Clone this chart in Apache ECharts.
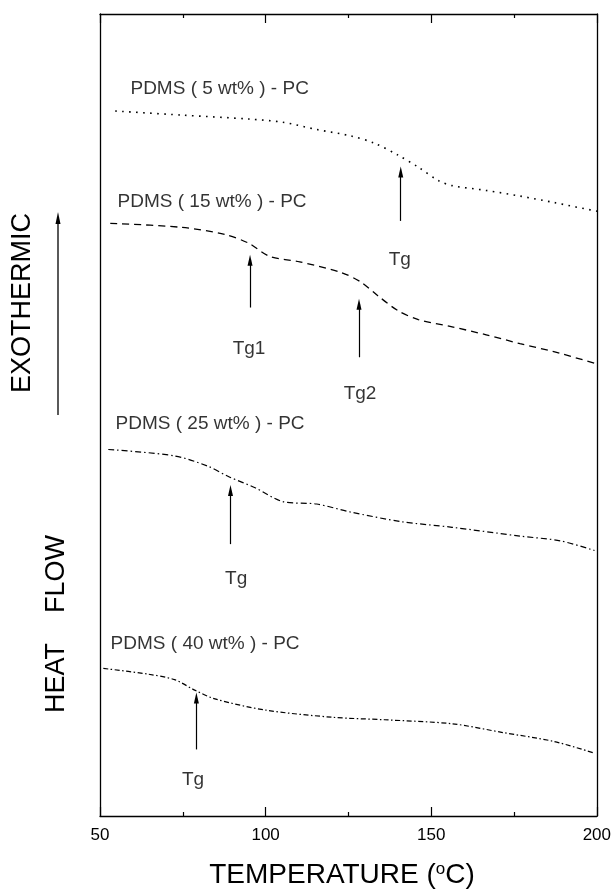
<!DOCTYPE html>
<html><head><meta charset="utf-8">
<script src="https://cdn.jsdelivr.net/npm/echarts@6/dist/echarts.min.js"></script>
<style>html,body{margin:0;padding:0;background:#fff}#c{width:614px;height:892px}</style>
</head><body><div id="c"></div>
<script>
// Temperature (°C) and heat flow (arbitrary units, 0-100)
const temp5  = [54.6,74.5,95.0,105.2,115.4,125.7,132.8,140.0,146.1,152.3,156.3,166.6,176.8,187.0,200.3,204.2];
const heat5  = [87.9,87.4,86.9,86.5,85.6,84.8,83.9,82.4,80.9,79.2,78.6,78.0,77.3,76.5,75.4,75.2];
const temp15 = [53.1,74.5,87.8,95.0,101.1,110.3,122.6,128.7,133.8,140.0,146.1,156.3,166.6,176.8,187.0,199.8];
const heat15 = [73.9,73.4,72.5,71.4,69.8,69.1,67.8,66.6,64.9,63.0,61.9,61.0,60.0,58.9,57.9,56.4];
const temp25 = [52.5,72.5,82.7,88.9,97.0,105.2,115.4,125.7,141.0,156.3,176.8,189.1,199.3];
const heat25 = [45.7,44.9,43.6,42.3,40.9,39.2,38.9,37.9,36.7,36.0,34.9,34.3,33.1];
const temp40 = [51.0,64.3,72.5,78.6,84.7,100.1,120.5,135.9,156.3,171.7,187.0,198.8];
const heat40 = [18.4,17.7,17.0,15.7,14.6,13.2,12.3,12.0,11.5,10.4,9.3,7.9];

// Tg arrows
const arrowSeries = [0,1,1,2,3];
const arrowT      = [140.8,95.3,128.2,89.4,79.1];
const arrowTail   = [74.2,63.4,57.2,33.9,8.3];
const arrowTip    = [80.3,69.3,63.8,40.6,14.7];

// Text annotations
const annotText  = ['PDMS ( 5 wt% ) - PC','PDMS ( 15 wt% ) - PC','PDMS ( 25 wt% ) - PC','PDMS ( 40 wt% ) - PC','Tg','Tg1','Tg2','Tg','Tg'];
const annotT     = [59.2,55.3,54.7,53.2,140.5,95.0,128.5,91.1,78.1];
const annotY     = [90.7,76.6,48.9,21.5,69.3,58.3,52.6,29.6,4.5];
const annotLeft  = [true,true,true,true,false,false,false,false,false];

const xTicks = [50,100,150,200];

const FONT = '"Liberation Sans", Arial, Helvetica, sans-serif';
const curves = [
  {t: temp5,  h: heat5,  dash: [1.6,5.4], w: 1.6, clip: false},
  {t: temp15, h: heat15, dash: [7,5],     w: 1.3, clip: true},
  {t: temp25, h: heat25, dash: [6,3,1.5,3], w: 1.2, clip: true},
  {t: temp40, h: heat40, dash: [5,2.5,1.5,2.5], w: 1.2, clip: true}
];

const series = curves.map((c, i) => {
  const arrows = [];
  arrowSeries.forEach((s, k) => {
    if (s === i) arrows.push([
      {coord: [arrowT[k], arrowTail[k]], symbol: 'none'},
      {coord: [arrowT[k], arrowTip[k]], symbol: 'triangle', symbolSize: [5, 11]}
    ]);
  });
  return {
    type: 'line', smooth: 0.3, showSymbol: false, clip: c.clip, silent: true,
    data: c.t.map((t, j) => [t, c.h[j]]),
    lineStyle: {color: '#000', width: c.w, type: c.dash},
    markLine: {
      silent: true, animation: false,
      lineStyle: {color: '#000', width: 1.2, type: 'solid'},
      label: {show: false},
      data: arrows
    }
  };
});

series.push({
  type: 'scatter', symbolSize: 0, silent: true,
  data: annotText.map((txt, i) => ({
    value: [annotT[i], annotY[i]],
    label: {
      show: true, formatter: txt,
      position: annotLeft[i] ? 'right' : 'inside',
      distance: 0,
      color: '#000', fontSize: 19, fontFamily: FONT
    }
  }))
});

const chart = echarts.init(document.getElementById('c'), null, {renderer: 'canvas'});
const axisLine = {show: true, onZero: false, lineStyle: {color: '#000', width: 1.3}};
const tick = {show: true, inside: true, length: 9, lineStyle: {color: '#000', width: 1.2}};
const minor = {show: true, splitNumber: 2, length: 4, lineStyle: {color: '#000', width: 1.2}};
chart.setOption({
  animation: false,
  backgroundColor: '#fff',
  grid: {left: 100, top: 14, right: 14, bottom: 76},
  xAxis: [
    {type: 'value', min: 50, max: 200, interval: 50, position: 'bottom',
     axisLine: axisLine, axisTick: tick, minorTick: minor,
     axisLabel: {show: true, color: '#000', fontSize: 17, fontFamily: FONT, margin: 11,
       formatter: v => xTicks.indexOf(v) >= 0 ? String(v) : ''},
     splitLine: {show: false}},
    {type: 'value', min: 50, max: 200, interval: 50, position: 'top',
     axisLine: axisLine, axisTick: tick, minorTick: minor,
     axisLabel: {show: false}, splitLine: {show: false}}
  ],
  yAxis: [
    {type: 'value', min: 0, max: 100, position: 'left', axisLine: axisLine,
     axisTick: {show: false}, axisLabel: {show: false}, splitLine: {show: false}},
    {type: 'value', min: 0, max: 100, position: 'right', axisLine: axisLine,
     axisTick: {show: false}, axisLabel: {show: false}, splitLine: {show: false}}
  ],
  series: series,
  graphic: [
    {type: 'text', x: 342, y: 875, silent: true,
     style: {text: 'TEMPERATURE ({s|o}C)', align: 'center', verticalAlign: 'middle',
       font: '28px ' + FONT, fill: '#000',
       rich: {s: {fontSize: 17, fontFamily: FONT, verticalAlign: 'top', fill: '#000'}}}},
    {type: 'text', x: 23, y: 303, rotation: Math.PI / 2, silent: true,
     style: {text: 'EXOTHERMIC', align: 'center', verticalAlign: 'middle',
       font: '27px ' + FONT, fill: '#000'}},
    {type: 'text', x: 57, y: 624, rotation: Math.PI / 2, silent: true,
     style: {text: 'HEAT    FLOW', align: 'center', verticalAlign: 'middle',
       font: '27px ' + FONT, fill: '#000'}},
    {type: 'line', silent: true, shape: {x1: 58, y1: 415, x2: 58, y2: 222},
     style: {stroke: '#000', lineWidth: 1.3}},
    {type: 'polygon', silent: true, shape: {points: [[58, 212], [55.5, 224], [60.5, 224]]},
     style: {fill: '#000'}}
  ]
});
</script>
</body></html>
